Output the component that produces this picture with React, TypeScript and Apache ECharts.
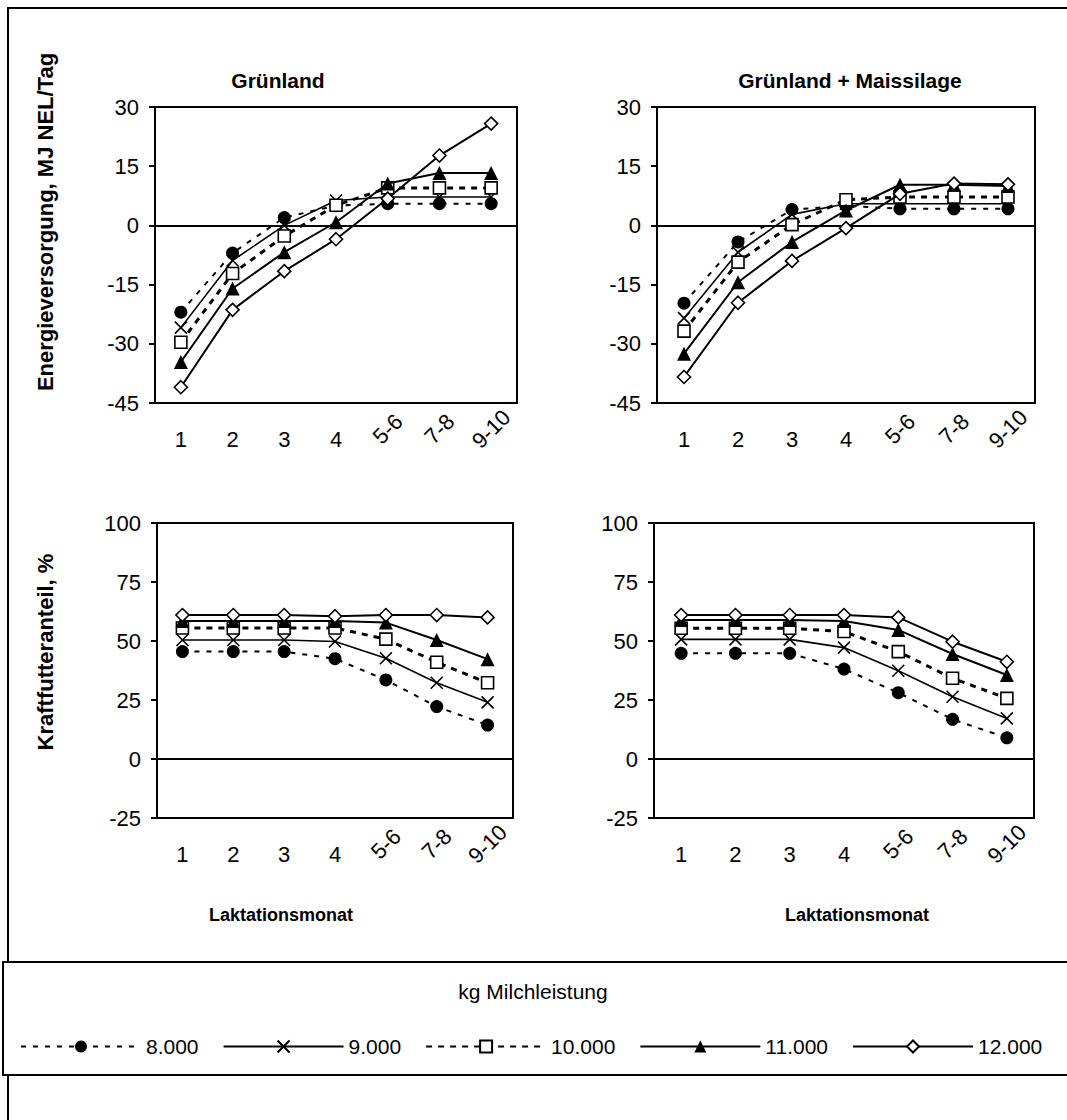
import React, { useEffect, useRef } from "react";
import * as echarts from "echarts";

const categories = ["1", "2", "3", "4", "5-6", "7-8", "9-10"];
const seriesNames = ["8.000", "9.000", "10.000", "11.000", "12.000"];

// Energieversorgung, Grünland
const energyG8 = [-22, -7, 2, 5, 5.5, 5.5, 5.5];
const energyG9 = [-25.9, -8.9, 0, 6.3, 7.2, 7.2, 7.2];
const energyG10 = [-29.6, -12.2, -2.7, 5.1, 9.5, 9.5, 9.5];
const energyG11 = [-34.6, -16, -6.8, 0.8, 10.6, 13.3, 13.3];
const energyG12 = [-41, -21.4, -11.6, -3.5, 6.8, 17.7, 25.8];

// Energieversorgung, Grünland + Maissilage
const energyM8 = [-19.7, -4.2, 4, 5, 4.2, 4.2, 4.2];
const energyM9 = [-23.5, -6.8, 2.8, 5.5, 5.5, 5.5, 5.5];
const energyM10 = [-26.8, -9.3, 0.2, 6.5, 7.2, 7.2, 7.2];
const energyM11 = [-32.5, -14.4, -4.2, 3.8, 10.3, 10.3, 10];
const energyM12 = [-38.4, -19.6, -9, -0.7, 8, 10.6, 10.4];

// Kraftfutteranteil, Grünland
const kfG8 = [45.5, 45.5, 45.5, 42.5, 33.5, 22.2, 14.4];
const kfG9 = [50.4, 50.4, 50.4, 49.8, 42.7, 32.3, 24];
const kfG10 = [55.5, 55.5, 55.5, 55.5, 50.8, 41, 32.3];
const kfG11 = [58.5, 58.5, 58.5, 58.5, 57.8, 50.4, 42.3];
const kfG12 = [61, 61, 61, 60.5, 61, 61, 60];

// Kraftfutteranteil, Grünland + Maissilage
const kfM8 = [44.8, 44.8, 44.8, 38.1, 28.1, 16.8, 9];
const kfM9 = [50.7, 50.7, 50.7, 47.2, 37.4, 26.4, 17.2];
const kfM10 = [55.4, 55.4, 55.4, 54, 45.5, 34.2, 25.7];
const kfM11 = [58.9, 58.9, 58.9, 58.5, 54.7, 44.5, 35.6];
const kfM12 = [61, 61, 61, 61, 60, 49.7, 41.2];

const energyTicks = { min: -45, max: 30, interval: 15 };
const kfTicks = { min: -25, max: 100, interval: 25 };

const panels = [
  { grid: { left: 155, top: 107, width: 362, height: 296 }, ticks: energyTicks, data: [energyG8, energyG9, energyG10, energyG11, energyG12] },
  { grid: { left: 657, top: 107, width: 378, height: 296 }, ticks: energyTicks, data: [energyM8, energyM9, energyM10, energyM11, energyM12] },
  { grid: { left: 157, top: 523, width: 356, height: 295 }, ticks: kfTicks, data: [kfG8, kfG9, kfG10, kfG11, kfG12] },
  { grid: { left: 654, top: 523, width: 380, height: 295 }, ticks: kfTicks, data: [kfM8, kfM9, kfM10, kfM11, kfM12] },
];

const FONT = "'Liberation Sans', Arial, Helvetica, sans-serif";

const styles = [
  { symbol: "circle", symbolSize: 13, fill: "#000", line: { type: [5, 7], width: 2 } },
  { symbol: "path://M0,0L10,10M10,0L0,10", symbolSize: 12, fill: "none", line: { type: "solid", width: 1.6 } },
  { symbol: "rect", symbolSize: 12, fill: "#fff", line: { type: [6, 6], width: 3 } },
  { symbol: "triangle", symbolSize: 14, fill: "#000", line: { type: "solid", width: 2 } },
  { symbol: "diamond", symbolSize: 13, fill: "#fff", line: { type: "solid", width: 2 } },
];

function buildOption() {
  const grids = panels.map((p) => ({
    ...p.grid,
    show: true,
    borderColor: "#000",
    borderWidth: 2,
    backgroundColor: "transparent",
    containLabel: false,
  }));
  const xAxes: any[] = [];
  panels.forEach((_, i) => {
    const base = {
      type: "category",
      gridIndex: i,
      position: "bottom",
      data: categories,
      boundaryGap: true,
      axisLine: { show: false },
      axisTick: { show: false },
      splitLine: { show: false },
    };
    xAxes.push({
      ...base,
      axisLabel: {
        interval: 0,
        margin: 25,
        fontSize: 22,
        color: "#000",
        fontFamily: FONT,
        formatter: (v: string, idx: number) => (idx < 4 ? v : ""),
      },
    });
    xAxes.push({
      ...base,
      axisLabel: {
        interval: 0,
        margin: 26,
        rotate: 45,
        align: "center",
        verticalAlign: "middle",
        fontSize: 22,
        color: "#000",
        fontFamily: FONT,
        formatter: (v: string, idx: number) => (idx >= 4 ? v : ""),
      },
    });
  });
  const yAxes = panels.map((p, i) => ({
    type: "value",
    gridIndex: i,
    position: "left",
    min: p.ticks.min,
    max: p.ticks.max,
    interval: p.ticks.interval,
    axisLine: { show: true, onZero: false, lineStyle: { color: "#000", width: 2 } },
    axisTick: { show: true, length: 6, lineStyle: { color: "#000", width: 2 } },
    axisLabel: { fontSize: 22, color: "#000", margin: 16, fontFamily: FONT },
    splitLine: { show: false },
  }));
  const series: any[] = [];
  panels.forEach((p, i) => {
    p.data.forEach((vals, k) => {
      const st = styles[k];
      const s: any = {
        type: "line",
        name: seriesNames[k],
        xAxisIndex: i * 2,
        yAxisIndex: i,
        data: vals,
        symbol: st.symbol,
        symbolSize: st.symbolSize,
        showAllSymbol: true,
        lineStyle: { color: "#000", width: st.line.width, type: st.line.type },
        itemStyle: { color: st.fill, borderColor: "#000", borderWidth: st.fill === "#000" ? 0 : 1.6 },
        z: 3 + k,
      };
      if (k === 0) {
        s.markLine = {
          silent: true,
          symbol: ["none", "none"],
          label: { show: false },
          lineStyle: { color: "#000", type: "solid", width: 2 },
          data: [{ yAxis: 0 }],
          z: 2,
        };
      }
      series.push(s);
    });
  });

  const txt = (text: string, x: number, y: number, size: number, bold: boolean, rotation = 0) => ({
    type: "text",
    x,
    y,
    rotation,
    style: {
      text,
      fill: "#000",
      fontSize: size,
      fontWeight: bold ? "bold" : "normal",
      fontFamily: FONT,
      align: "center",
      verticalAlign: "middle",
      textAlign: "center",
      textVerticalAlign: "middle",
    },
  });

  return {
    animation: false,
    backgroundColor: "#fff",
    grid: grids,
    xAxis: xAxes,
    yAxis: yAxes,
    series,
    legend: {
      data: seriesNames,
      left: 15,
      top: 1031,
      itemWidth: 120,
      itemHeight: 15,
      itemGap: 24,
      textStyle: { fontSize: 21, color: "#000", fontFamily: FONT },
    },
    graphic: [
      { type: "rect", shape: { x: 8, y: 8, width: 1080, height: 1140 }, style: { fill: "none", stroke: "#000", lineWidth: 2 } },
      { type: "rect", shape: { x: 3, y: 962, width: 1090, height: 113 }, style: { fill: "#fff", stroke: "#000", lineWidth: 2 } },
      txt("Grünland", 278, 80, 21, true),
      txt("Grünland + Maissilage", 850, 80, 21, true),
      txt("Energieversorgung, MJ NEL/Tag", 45, 222, 22, true, Math.PI / 2),
      txt("Kraftfutteranteil, %", 45, 652, 22, true, Math.PI / 2),
      txt("Laktationsmonat", 281, 915, 18, true),
      txt("Laktationsmonat", 857, 915, 18, true),
      txt("kg Milchleistung", 533, 991, 21, false),
    ],
  };
}

export default function App() {
  const ref = useRef<HTMLDivElement>(null);
  useEffect(() => {
    if (!ref.current) return;
    const chart = echarts.init(ref.current, undefined, { renderer: "svg" });
    chart.setOption(buildOption() as any);
    return () => chart.dispose();
  }, []);
  return (
    <div
      ref={ref}
      style={{ position: "absolute", left: 0, top: 0, width: 1067, height: 1120, background: "#fff" }}
    />
  );
}
